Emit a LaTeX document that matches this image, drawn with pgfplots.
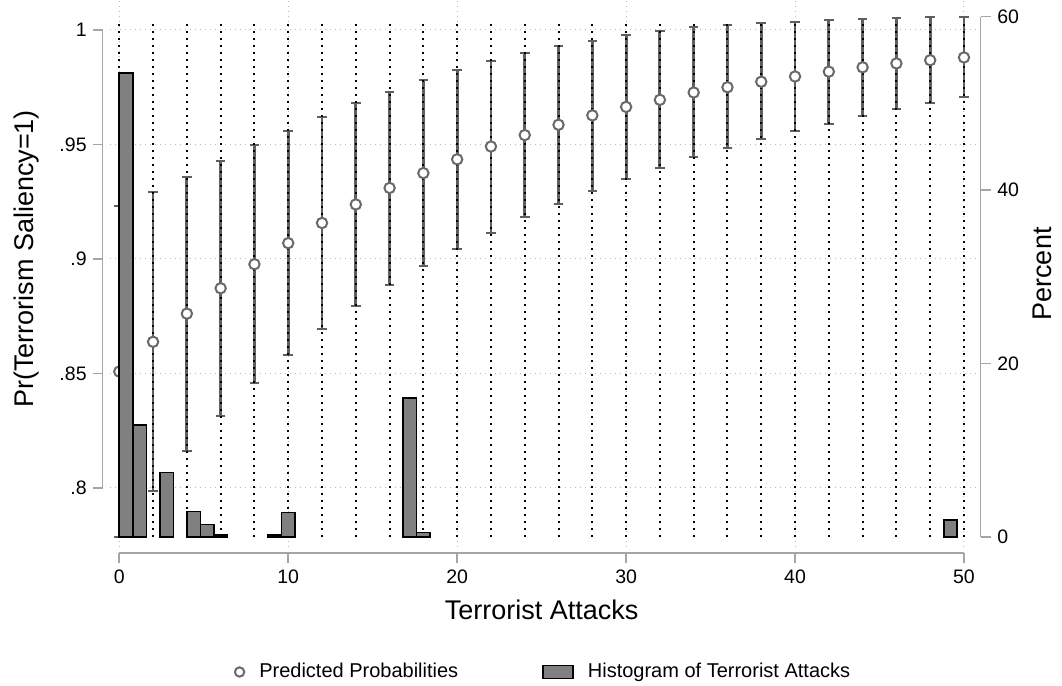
\documentclass[border=0pt]{standalone}
\usepackage{fontspec}
\setmainfont{Liberation Sans}
\usepackage{pgfplots}
\pgfplotsset{compat=1.18}
\usepackage{pgfplotstable}

\definecolor{cigray}{RGB}{95,95,95}
\definecolor{markgray}{RGB}{105,105,105}
\definecolor{histgray}{RGB}{128,128,128}
\definecolor{axgray}{RGB}{165,165,165}
\definecolor{gridgray}{RGB}{185,185,185}

\newcommand\tickfont{\fontsize{9.75}{11}\selectfont}
\newcommand\titlefont{\fontsize{13.5}{15}\selectfont}
\newcommand\legendfont{\fontsize{10}{12}\selectfont}

% predicted probability with upper and lower confidence bound
\pgfplotstableread{
x  y      hi     lo
0  0.8508 0.9230 0.7786
2  0.8638 0.9294 0.7985
4  0.8761 0.9360 0.8162
6  0.8872 0.9427 0.8316
8  0.8977 0.9496 0.8457
10 0.9069 0.9560 0.8582
12 0.9157 0.9622 0.8696
14 0.9238 0.9680 0.8794
16 0.9310 0.9731 0.8886
18 0.9375 0.9781 0.8969
20 0.9435 0.9825 0.9044
22 0.9491 0.9864 0.9114
24 0.9541 0.9900 0.9182
26 0.9586 0.9930 0.9241
28 0.9627 0.9953 0.9296
30 0.9664 0.9977 0.9350
32 0.9695 0.9995 0.9399
34 0.9727 1.0011 0.9444
36 0.9750 1.0021 0.9484
38 0.9774 1.0029 0.9523
40 0.9797 1.0037 0.9559
42 0.9818 1.0045 0.9591
44 0.9837 1.0050 0.9623
46 0.9854 1.0053 0.9653
48 0.9868 1.0056 0.9680
50 0.9880 1.0058 0.9708
}\ci

% histogram bins (width 0.8), bin midpoint and percent
\pgfplotstableread{
mid  pct
0.4  53.5
1.2  12.9
2.8  7.4
4.4  2.9
5.2  1.4
6.0  0.2
9.2  0.2
10.0 2.8
17.2 16.0
18.0 0.5
49.2 1.9
}\hist

\begin{document}
\begin{tikzpicture}
\path[use as bounding box] (0,0) rectangle (531pt,343pt);

% left scale: predicted probabilities
\begin{axis}[
  at={(55pt,69.5pt)}, anchor=south west,
  scale only axis, width=433.5pt, height=273.5pt,
  xmin=-0.55, xmax=50.77, ymin=0.77418, ymax=1.0131,
  clip=false,
  axis line style={draw=none},
  major tick length=0pt, minor tick length=0pt,
  xtick={0,10,20,30,40,50}, xticklabels={0,10,20,30,40,50},
  ytick={0.8,0.85,0.9,0.95,1}, yticklabels={.8,.85,.9,.95,1},
  xticklabel style={font=\tickfont, anchor=base, inner sep=0pt, yshift=-18.5pt},
  yticklabel style={font=\tickfont, anchor=east, inner sep=0pt, xshift=-11.5pt},
  grid=major,
  major grid style={gridgray, line width=0.5pt, dash pattern=on 0.5pt off 2pt},
  xlabel={Terrorist Attacks},
  ylabel={Pr(Terrorism Saliency=1)},
  xlabel style={font=\titlefont, at={(axis description cs:0.4979,-0.13346)}, anchor=base, inner sep=0pt},
  ylabel style={font=\titlefont, at={(axis description cs:-0.08881,0.5265)}, anchor=base, inner sep=0pt},
]
% confidence intervals
\addplot[forget plot, only marks, mark=none,
  error bars/.cd, y dir=both, y explicit,
  error bar style={cigray, line width=1.4pt},
  error mark options={rotate=90, cigray, line width=1pt, mark size=2.4pt}]
  table[x=x, y=y, y error plus expr=\thisrow{hi}-\thisrow{y},
        y error minus expr=\thisrow{y}-\thisrow{lo}] {\ci};
% reference lines at every evaluated value
\pgfplotsinvokeforeach{0,2,...,50}{
  \draw[black, line width=1pt, dash pattern=on 1pt off 2.5pt]
    (axis cs:#1,0.7786) -- (axis cs:#1,1.0026);
}
% point estimates (hollow circles)
\addplot[forget plot, only marks, mark=*, mark size=2.6pt,
  mark options={draw=markgray, line width=1pt, fill=white}]
  table[x=x, y=y] {\ci};
% axis lines and ticks
\draw[axgray, line width=0.8pt] (axis cs:-0.9826,0.8) -- (axis cs:-0.9826,1);
\pgfplotsinvokeforeach{0.8,0.85,0.9,0.95,1}{
  \draw[axgray, line width=0.8pt] (axis cs:-0.9826,#1) -- (axis cs:-1.5745,#1);
}
\draw[axgray, line width=0.8pt] (axis cs:0,0.771556) -- (axis cs:50,0.771556);
\pgfplotsinvokeforeach{0,10,...,50}{
  \draw[axgray, line width=0.8pt] (axis cs:#1,0.771556) -- (axis cs:#1,0.767188);
}
\end{axis}

% right scale: histogram in percent
\begin{axis}[
  at={(55pt,69.5pt)}, anchor=south west,
  scale only axis, width=433.5pt, height=273.5pt,
  xmin=-0.55, xmax=50.77, ymin=-1.188, ymax=61.927,
  clip=false,
  axis x line=none,
  axis y line*=right,
  axis line style={draw=none},
  major tick length=0pt, minor tick length=0pt,
  ytick={0,20,40,60}, yticklabels={0,20,40,60},
  yticklabel style={font=\tickfont, anchor=west, inner sep=0pt, xshift=10pt},
  ylabel={Percent},
  ylabel style={font=\titlefont, at={(axis description cs:1.0865,0.4991)}, anchor=base, inner sep=0pt},
  legend style={draw=none, fill=none, at={(axis description cs:0.4983,-0.2285)}, anchor=center,
    font=\legendfont, nodes={inner sep=0pt}, column sep=7pt,
    /tikz/every even column/.append style={column sep=42pt}},
  legend columns=2,
  legend cell align=left,
]
\addlegendimage{legend image code/.code={\draw[markgray, line width=1pt, fill=white] (0pt,0pt) circle (2.35pt);}}
\addlegendentry{Predicted Probabilities}
\addplot[ybar, bar width=0.8, fill=histgray, draw=black, line width=0.8pt,
  legend image code/.code={\draw[fill=histgray, draw=black, line width=0.8pt] (0pt,-3.25pt) rectangle (15pt,3.25pt);}]
  table[x=mid, y=pct] {\hist};
\addlegendentry{Histogram of Terrorist Attacks}
\draw[axgray, line width=0.8pt] (axis cs:50.988,0) -- (axis cs:50.988,60);
\pgfplotsinvokeforeach{0,20,40,60}{
  \draw[axgray, line width=0.8pt] (axis cs:50.988,#1) -- (axis cs:51.580,#1);
}
\end{axis}
\end{tikzpicture}
\end{document}
